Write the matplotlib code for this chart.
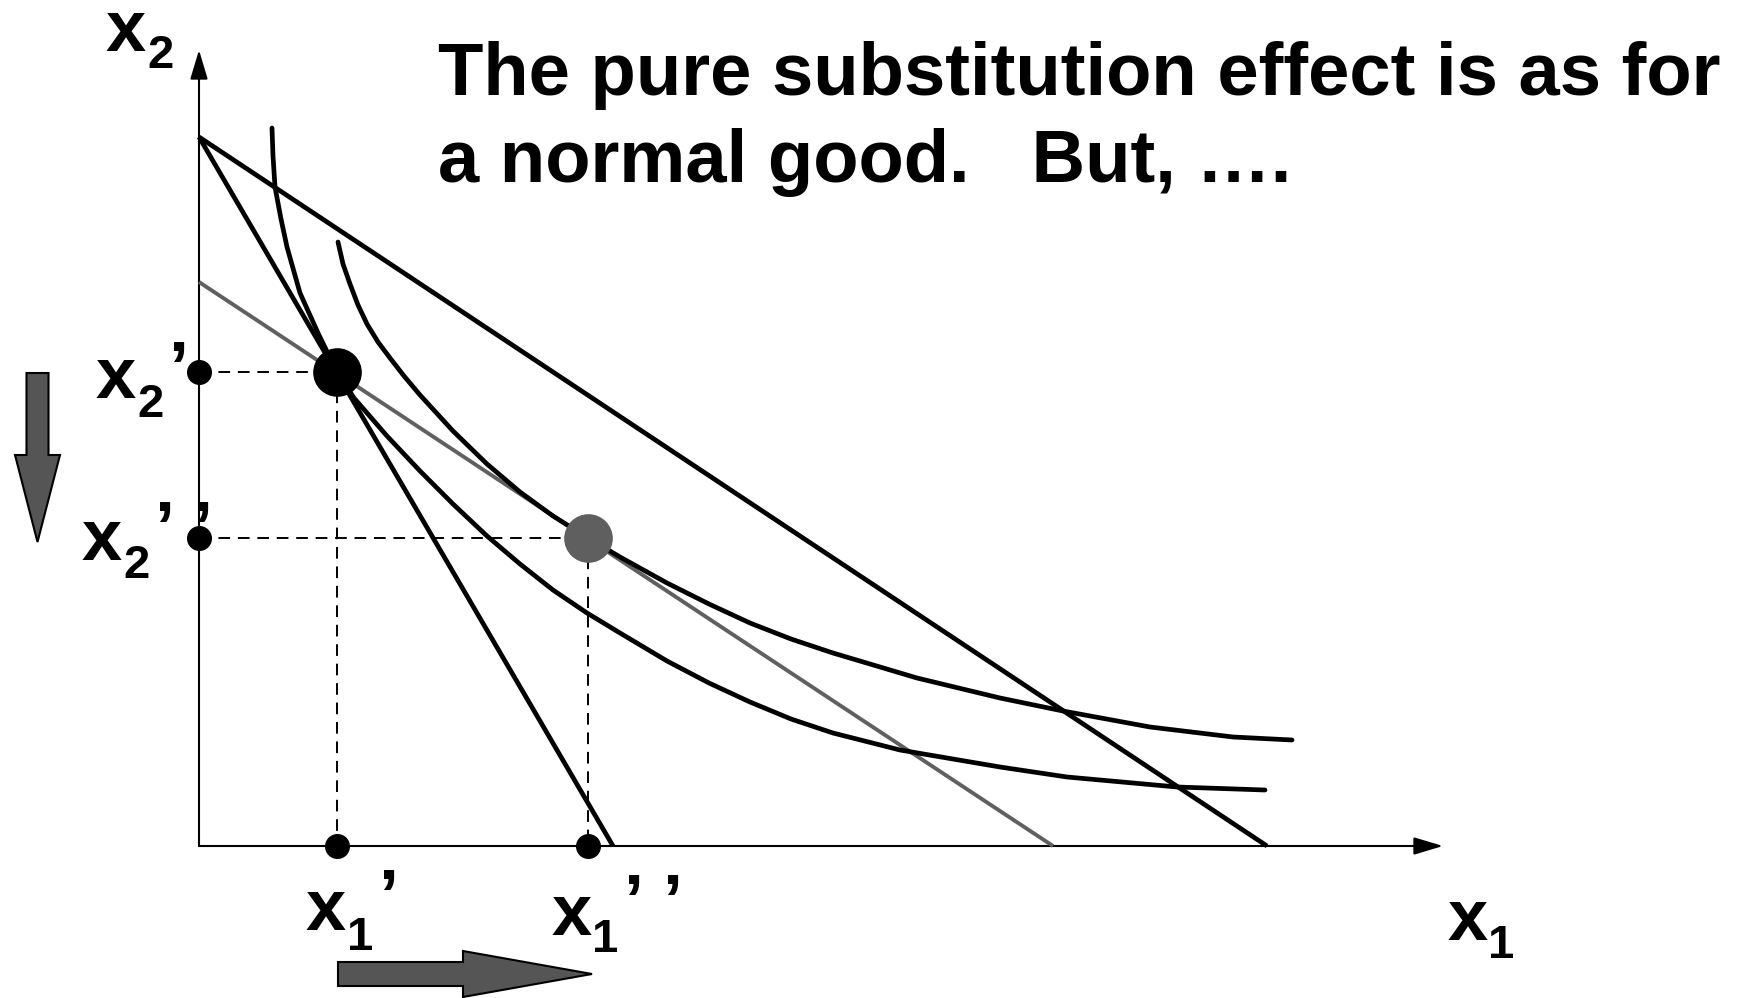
import matplotlib
matplotlib.use("Agg")
import matplotlib.pyplot as plt
from matplotlib.patches import FancyArrow, FancyArrowPatch, ArrowStyle

plt.rcParams['font.family'] = ['Liberation Sans', 'DejaVu Sans']
plt.rcParams['font.weight'] = 'bold'

# Data (1 unit = 100 px of the original drawing, origin at the axes corner)
axis_x_end = 12.44
axis_y_end = 7.96

# budget lines: (x1 intercept, x2 intercept)
budget_orig = (4.14, 7.09)     # original, steep
budget_slutsky = (8.54, 5.64)  # pivoted through x'
budget_new = (10.68, 7.09)     # after the price fall

bundle_1 = (1.38, 4.74)   # (x1', x2')
bundle_2 = (3.89, 3.08)   # (x1'', x2'')

ic1_x = [0.73, 0.74, 0.76, 0.82, 0.88, 1.01, 1.19, 1.38, 1.55, 1.88, 2.21, 2.54, 2.88, 3.21,
         3.54, 3.88, 4.21, 4.68, 5.10, 5.51, 5.92, 6.34, 7.01, 8.01, 8.68, 9.78, 10.66]
ic1_y = [7.18, 6.90, 6.59, 6.27, 5.99, 5.53, 5.13, 4.74, 4.48, 4.10, 3.75, 3.42, 3.10, 2.82,
         2.56, 2.33, 2.13, 1.85, 1.63, 1.44, 1.27, 1.13, 0.96, 0.79, 0.69, 0.59, 0.56]

ic2_x = [1.39, 1.44, 1.51, 1.59, 1.68, 1.79, 1.91, 2.05, 2.21, 2.54, 2.88, 3.21, 3.54, 3.89, 4.21,
         4.68, 5.10, 5.51, 5.92, 6.34, 7.18, 8.01, 8.64, 9.51, 10.34, 10.93]
ic2_y = [6.04, 5.82, 5.62, 5.41, 5.22, 5.04, 4.88, 4.70, 4.51, 4.15, 3.82, 3.54, 3.30, 3.08, 2.89,
         2.63, 2.42, 2.23, 2.07, 1.93, 1.68, 1.48, 1.35, 1.19, 1.09, 1.06]

title_lines = ["The pure substitution effect is as for", "a normal good.   But, \u2026."]

fig = plt.figure(figsize=(17.49, 9.98), dpi=100)
ax = fig.add_axes([0, 0, 1, 1])
ax.set_xlim(-1.99, 15.50)
ax.set_ylim(-1.52, 8.46)
ax.axis('off')

# axes with arrow heads
head = ArrowStyle('-|>', head_length=18, head_width=5.4)
for end in [(axis_x_end, 0), (0, axis_y_end)]:
    ax.add_patch(FancyArrowPatch((0, 0), end, arrowstyle=head, mutation_scale=1,
                                 shrinkA=0, shrinkB=0, lw=1.5, color='black', zorder=2))

# budget lines
for bx, by in [budget_orig, budget_new]:
    ax.plot([0, bx], [by, 0], color='black', lw=3.4, solid_capstyle='butt', zorder=3)
ax.plot([0, budget_slutsky[0]], [budget_slutsky[1], 0], color='#606060', lw=2.8,
        solid_capstyle='butt', zorder=3)

# indifference curves
ax.plot(ic1_x, ic1_y, color='black', lw=3.4, solid_capstyle='round', solid_joinstyle='round', zorder=3)
ax.plot(ic2_x, ic2_y, color='black', lw=3.4, solid_capstyle='round', solid_joinstyle='round', zorder=3)

# dashed guides and dots
for (bx, by), col in [(bundle_1, 'black'), (bundle_2, '#5f5f5f')]:
    ax.plot([0, bx], [by, by], color='black', lw=1.4, dashes=(6, 4), zorder=2)
    ax.plot([bx, bx], [by, 0], color='black', lw=1.4, dashes=(6, 4), zorder=2)
    ax.plot(bx, by, 'o', ms=34, color=col, zorder=5)
    ax.plot([0, bx], [by, 0], 'o', ms=17, color='black', linestyle='none', zorder=5)

# labels
big = 52
small = 34
def label(x, y, sub, sub_dx, sub_dy, primes=()):
    ax.text(x, y, 'x', fontsize=big, ha='left', va='baseline')
    ax.text(x + sub_dx, y + sub_dy, sub, fontsize=small, ha='left', va='baseline')
    for px, py in primes:
        ax.text(x + px, y + py, '\u2019', fontsize=big, ha='left', va='baseline')

label(-0.93, 7.95, '2', 0.41, -0.17)
label(12.48, -0.94, '1', 0.41, -0.18)
label(-1.03, bundle_1[1] - 0.26, '2', 0.41, -0.19, [(0.72, 0.06)])
label(-1.17, bundle_2[1] - 0.22, '2', 0.41, -0.18, [(0.72, 0.08), (1.10, 0.08)])
label(bundle_1[0] - 0.32, -0.84, '1', 0.42, -0.20, [(0.73, 0.10)])
label(bundle_2[0] - 0.36, -0.89, '1', 0.40, -0.17, [(0.71, 0.10), (1.10, 0.10)])

# block arrows
ax.add_patch(FancyArrow(-1.615, 4.73, 0, -1.69, width=0.22, head_width=0.45, head_length=0.87,
                        length_includes_head=True, fc='#555555', ec='black', lw=1.5, zorder=4))
ax.add_patch(FancyArrow(1.39, -1.28, 2.54, 0, width=0.24, head_width=0.46, head_length=1.29,
                        length_includes_head=True, fc='#555555', ec='black', lw=1.5, zorder=4))

# title
ax.text(2.39, 7.51, title_lines[0], fontsize=53.5, ha='left', va='baseline')
ax.text(2.39, 6.64, title_lines[1], fontsize=53.5, ha='left', va='baseline')

fig.savefig('out.png', dpi=100)
